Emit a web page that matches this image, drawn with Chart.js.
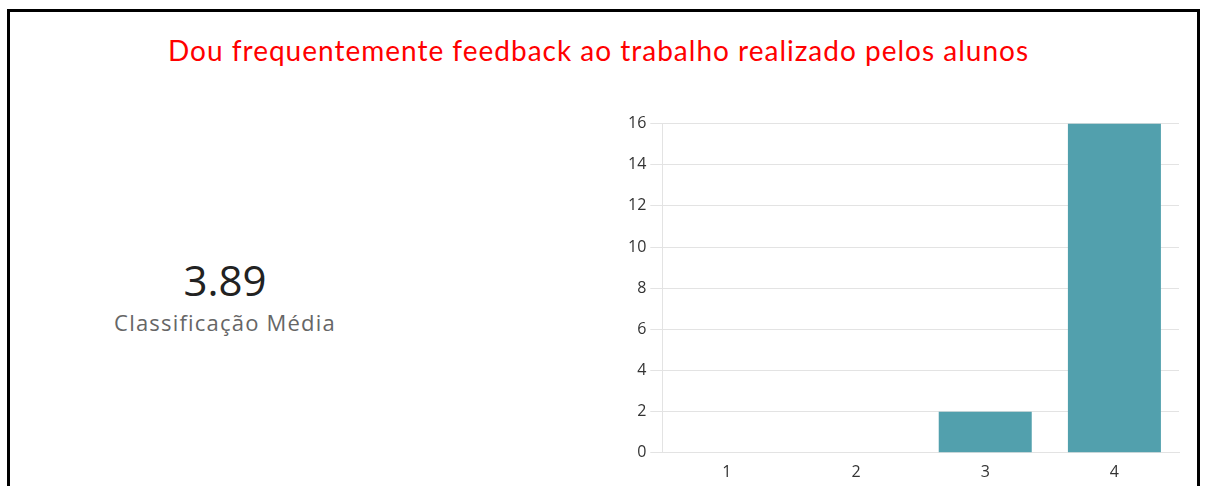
<!DOCTYPE html>
<html>
<head>
<meta charset="utf-8">
<script src="https://cdn.jsdelivr.net/npm/chart.js@4"></script>
<style>
  body { margin: 0; width: 1205px; height: 486px; overflow: hidden; background: #fff; font-family: "Open Sans", sans-serif; }
  .moldura { position: absolute; left: 7px; top: 9px; width: 1193px; height: 500px; border: 3px solid #000; box-sizing: border-box; }
  .titulo { position: absolute; left: 0; top: 33px; width: 1197px; text-align: center; color: #ff0000; font-family: "Lato", sans-serif; font-size: 28px; letter-spacing: 1px; }
  .media { position: absolute; left: 75px; top: 252px; width: 300px; text-align: center; }
  .media .valor { font-family: "Open Sans", sans-serif; font-size: 42px; color: #222; line-height: 56px; }
  .media .rotulo { font-family: "Open Sans", sans-serif; font-size: 22px; color: #666; line-height: 28px; letter-spacing: 1.2px; }
  .grafico { position: absolute; left: 624px; top: 110px; width: 561px; height: 374px; }
</style>
</head>
<body>
<div class="moldura"></div>
<div class="titulo">Dou frequentemente feedback ao trabalho realizado pelos alunos</div>
<div class="media">
  <div class="valor">3.89</div>
  <div class="rotulo">Classificação Média</div>
</div>
<div class="grafico"><canvas id="graficoRespostas"></canvas></div>
<script>
// Dados do gráfico
const categorias = ["1", "2", "3", "4"];
const respostas = [0, 0, 2, 16];
const marcasY = [0, 2, 4, 6, 8, 10, 12, 14, 16];

const ctx = document.getElementById("graficoRespostas");
new Chart(ctx, {
  type: "bar",
  data: {
    labels: categorias,
    datasets: [{
      label: "Respostas",
      data: respostas,
      backgroundColor: "#52a0ad",
      barPercentage: 0.72,
      categoryPercentage: 1
    }]
  },
  options: {
    responsive: true,
    maintainAspectRatio: false,
    animation: false,
    layout: { padding: { top: 4, right: 6, bottom: 0, left: 0 } },
    plugins: {
      legend: { display: false },
      tooltip: { enabled: false }
    },
    scales: {
      x: {
        grid: { display: false },
        border: { display: true, color: "#e3e3e3" },
        ticks: { color: "#333", font: { family: "Open Sans", size: 16 }, padding: 2 }
      },
      y: {
        min: marcasY[0],
        max: marcasY[marcasY.length - 1],
        afterBuildTicks: scale => { scale.ticks = marcasY.map(v => ({ value: v })); },
        grid: { color: "#e3e3e3", tickLength: 12 },
        border: { display: true, color: "#e3e3e3" },
        ticks: { color: "#333", font: { family: "Open Sans", size: 16 }, padding: 4 }
      }
    }
  }
});
</script>
</body>
</html>
